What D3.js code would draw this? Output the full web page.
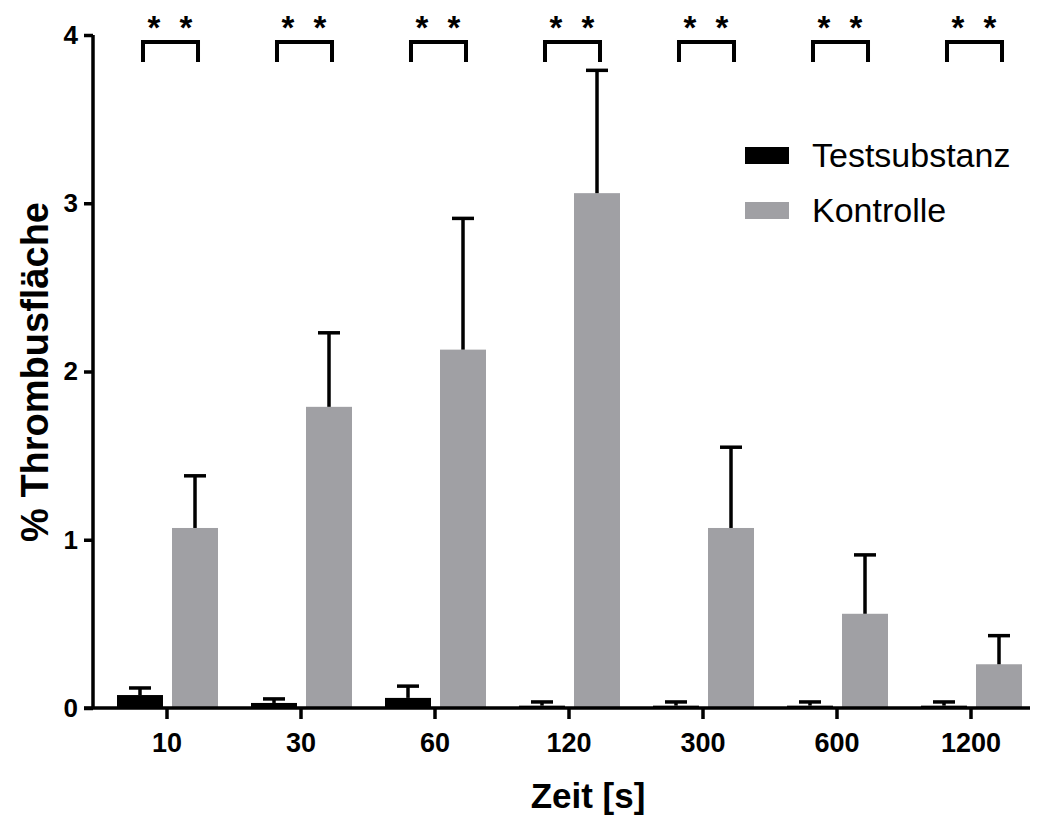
<!DOCTYPE html>
<html>
<head>
<meta charset="utf-8">
<script src="https://cdn.jsdelivr.net/npm/d3@7"></script>
<style>
  html, body { margin: 0; padding: 0; background: #fff; }
  svg { display: block; font-family: "Liberation Sans", Arial, sans-serif; }
</style>
</head>
<body>
<svg id="chart" width="1039" height="817"></svg>
<script>
// Time points (s)
const categories = ["10", "30", "60", "120", "300", "600", "1200"];
const seriesNames = ["Testsubstanz", "Kontrolle"];
// Mean thrombus area (%) and upper error (SEM)
const testMean = [0.077, 0.03, 0.06, 0.014, 0.014, 0.014, 0.014];
const testErr  = [0.042, 0.024, 0.07, 0.022, 0.022, 0.022, 0.022];
const ctrlMean = [1.07, 1.79, 2.13, 3.06, 1.07, 0.56, 0.26];
const ctrlErr  = [0.31, 0.44, 0.78, 0.73, 0.48, 0.35, 0.17];
// Significance marks per time point
const sigLabels = ["**", "**", "**", "**", "**", "**", "**"];
const yTicks = [0, 1, 2, 3, 4];

const colors = { "Testsubstanz": "#000000", "Kontrolle": "#a0a0a4" };

const svg = d3.select("#chart");

const x = d3.scaleBand().domain(categories).range([100, 1038]).padding(0);
const xInner = d3.scaleBand().domain(seriesNames).range([-50, 51]).paddingInner(0.164);
const y = d3.scaleLinear().domain([0, 4]).range([708, 35]);

const rows = categories.map((c, i) => ({
  cat: c,
  sig: sigLabels[i],
  values: [
    { name: "Testsubstanz", mean: testMean[i], err: testErr[i] },
    { name: "Kontrolle", mean: ctrlMean[i], err: ctrlErr[i] }
  ]
}));

const center = c => x(c) + x.bandwidth() / 2;

// Bars
const groups = svg.append("g").selectAll("g")
  .data(rows).join("g")
  .attr("transform", d => `translate(${center(d.cat)},0)`);

groups.selectAll("rect")
  .data(d => d.values).join("rect")
  .attr("x", v => xInner(v.name))
  .attr("width", xInner.bandwidth())
  .attr("y", v => y(v.mean))
  .attr("height", v => y(0) - y(v.mean))
  .attr("fill", v => colors[v.name]);

// Error bars (upper only)
const capHalf = 11;
const eb = groups.selectAll("g.err")
  .data(d => d.values).join("g").attr("class", "err")
  .attr("stroke", "#000").attr("stroke-width", 3.5);
eb.append("line")
  .attr("x1", v => xInner(v.name) + xInner.bandwidth() / 2)
  .attr("x2", v => xInner(v.name) + xInner.bandwidth() / 2)
  .attr("y1", v => y(v.mean))
  .attr("y2", v => y(v.mean + v.err));
eb.append("line")
  .attr("x1", v => xInner(v.name) + xInner.bandwidth() / 2 - capHalf)
  .attr("x2", v => xInner(v.name) + xInner.bandwidth() / 2 + capHalf)
  .attr("y1", v => y(v.mean + v.err))
  .attr("y2", v => y(v.mean + v.err));

// Significance brackets
const bx1 = xInner("Testsubstanz") + xInner.bandwidth() / 2 + 3;
const bx2 = xInner("Kontrolle") + xInner.bandwidth() / 2 + 3;
groups.append("path")
  .attr("d", `M${bx1},62 V42 H${bx2} V62`)
  .attr("fill", "none").attr("stroke", "#000").attr("stroke-width", 4);
groups.append("text")
  .attr("x", (bx1 + bx2) / 2 + 2)
  .attr("y", 39)
  .attr("text-anchor", "middle")
  .attr("font-size", 33).attr("font-weight", "bold")
  .attr("letter-spacing", 5)
  .style("white-space", "pre")
  .text(d => d.sig.split("").join(" "));

// Y axis
const yAxis = svg.append("g")
  .attr("transform", "translate(93,0)")
  .call(d3.axisLeft(y).tickValues(yTicks).tickFormat(d3.format("d")).tickSize(9).tickPadding(6));
yAxis.select(".domain").attr("stroke-width", 3.5).attr("d", `M0,${y(4)}V${y(0)}`);
yAxis.selectAll(".tick line").attr("stroke-width", 3.5);
yAxis.selectAll(".tick text").attr("font-size", 26).attr("font-weight", "bold")
  .attr("font-family", "Liberation Sans, Arial, sans-serif");

// X axis
const xAxis = svg.append("g")
  .attr("transform", `translate(0,${y(0)})`)
  .call(d3.axisBottom(x).tickSize(11).tickPadding(14));
xAxis.select(".domain").attr("stroke-width", 3.5).attr("d", "M84,0H1030");
xAxis.selectAll(".tick line").attr("stroke-width", 3.5);
xAxis.selectAll(".tick text").attr("font-size", 27).attr("font-weight", "bold")
  .attr("font-family", "Liberation Sans, Arial, sans-serif");

// Axis titles
svg.append("text")
  .attr("x", 588).attr("y", 808)
  .attr("text-anchor", "middle")
  .attr("font-size", 35).attr("font-weight", "bold")
  .text("Zeit [s]");
svg.append("text")
  .attr("transform", "translate(48,372) rotate(-90)")
  .attr("text-anchor", "middle")
  .attr("font-size", 38).attr("font-weight", "bold")
  .text("% Thrombusfläche");

// Legend
const legend = svg.append("g").attr("transform", "translate(745,145)");
const li = legend.selectAll("g").data(seriesNames).join("g")
  .attr("transform", (d, i) => `translate(0,${i * 55})`);
li.append("rect").attr("width", 44).attr("height", 17).attr("y", 2)
  .attr("fill", d => colors[d]);
li.append("text").attr("x", 67).attr("y", 22)
  .attr("font-size", 34)
  .text(d => d);
</script>
</body>
</html>
